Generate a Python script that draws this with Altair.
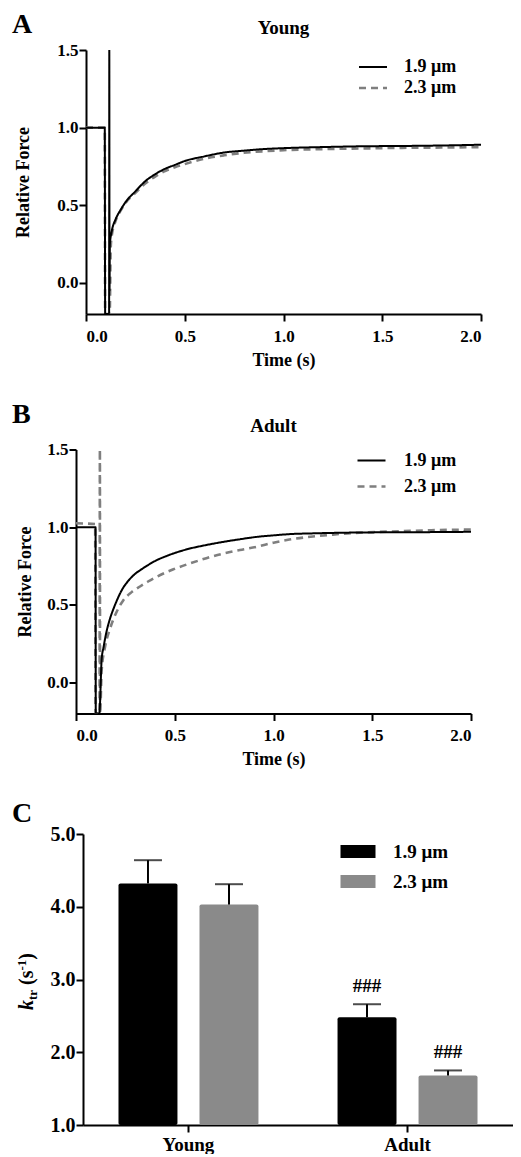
import altair as alt
import pandas as pd

FONT = "Liberation Serif"
SERIES = ["1.9 μm", "2.3 μm"]
LINE_COLORS = ["#000000", "#7f7f7f"]
BAR_COLORS = ["#000000", "#8a8a8a"]

# ---------------- Panel A : Young ----------------
young_19_t = [0.0, 0.095, 0.097, 0.117, 0.118, 0.119, 0.121, 0.13, 0.15, 0.175, 0.2, 0.25, 0.3,
              0.35, 0.4, 0.45, 0.5, 0.6, 0.7, 0.8, 0.9, 1.0, 1.2, 1.4, 1.6, 1.8, 2.0]
young_19_f = [1.0, 1.0, -0.2, -0.2, 1.5, -0.05, 0.25, 0.33, 0.41, 0.47, 0.52, 0.59, 0.655,
              0.70, 0.735, 0.76, 0.785, 0.815, 0.84, 0.852, 0.862, 0.868, 0.875, 0.88, 0.882, 0.885, 0.89]
young_23_t = [0.0, 0.095, 0.097, 0.12, 0.125, 0.13, 0.15, 0.175, 0.2, 0.25, 0.3, 0.35, 0.4,
              0.45, 0.5, 0.6, 0.7, 0.8, 0.9, 1.0, 1.2, 1.4, 1.6, 1.8, 2.0]
young_23_f = [1.0, 1.0, -0.2, -0.2, 0.22, 0.30, 0.40, 0.465, 0.515, 0.58, 0.64, 0.685, 0.72,
              0.745, 0.765, 0.80, 0.822, 0.838, 0.848, 0.855, 0.862, 0.866, 0.87, 0.872, 0.875]

# ---------------- Panel B : Adult ----------------
adult_19_t = [0.0, 0.099, 0.1, 0.118, 0.13, 0.14, 0.155, 0.172, 0.19, 0.206, 0.22, 0.239, 0.27,
              0.3, 0.324, 0.36, 0.408, 0.45, 0.492, 0.576, 0.66, 0.745, 0.83, 0.913, 1.0, 1.08,
              1.2, 1.4, 1.6, 1.8, 2.0]
adult_19_f = [1.0, 1.0, -0.2, -0.2, 0.15, 0.23, 0.33, 0.41, 0.475, 0.525, 0.565, 0.61, 0.662,
              0.70, 0.722, 0.752, 0.787, 0.81, 0.83, 0.862, 0.885, 0.905, 0.922, 0.937, 0.947, 0.955,
              0.96, 0.965, 0.967, 0.968, 0.97]
adult_23_t = [0.0, 0.097, 0.099, 0.119, 0.121, 0.122, 0.13, 0.147, 0.172, 0.206,
              0.239, 0.28, 0.324, 0.365, 0.408, 0.49, 0.576, 0.66, 0.745, 0.83, 0.913, 1.0,
              1.08, 1.2, 1.3, 1.4, 1.6, 1.8, 2.0]
adult_23_f = [1.025, 1.02, -0.2, -0.2, 1.5, -0.2, 0.08, 0.228, 0.345, 0.455,
              0.528, 0.58, 0.618, 0.65, 0.68, 0.727, 0.766, 0.80, 0.83, 0.853, 0.873, 0.90,
              0.92, 0.94, 0.952, 0.962, 0.972, 0.98, 0.985]

# ---------------- Panel C : k_tr ----------------
groups = ["Young", "Young", "Adult", "Adult"]
lengths = ["1.9 μm", "2.3 μm", "1.9 μm", "2.3 μm"]
ktr_mean = [4.32, 4.03, 2.48, 1.68]
ktr_sem = [0.32, 0.28, 0.18, 0.07]
sig_marks = ["", "", "###", "###"]
GROUP_ORDER = ["Young", "Adult"]


def trace_df(parts):
    rows = []
    k = 0
    for name, ts, fs in parts:
        for t, f in zip(ts, fs):
            rows.append({"series": name, "t": t, "f": f, "order": k})
            k += 1
    return pd.DataFrame(rows)


def text_layer(txt, size, dx, dy, align="left"):
    return alt.Chart(pd.DataFrame({"s": [txt]})).mark_text(
        font=FONT, fontSize=size, fontWeight="bold", align=align, baseline="alphabetic",
        color="black").encode(text="s:N", x=alt.value(dx), y=alt.value(dy))


def trace_legend(leg_x, leg_y, row_pad, off):
    return alt.Legend(title=None, orient="none", legendX=leg_x, legendY=leg_y,
                      symbolType="M-2,0L2,0", symbolSize=196, symbolStrokeWidth=2.5,
                      labelFont=FONT, labelFontSize=18, labelFontWeight="bold",
                      labelColor="black", labelOffset=off, rowPadding=row_pad)


def trace_panel(df, title, title_x, title_dy, letter, ldy, leg_x, leg_y, row_pad, off,
                title_pad, width, x0):
    lines = alt.Chart(df).mark_line(clip=True, interpolate="monotone").encode(
        x=alt.X("t:Q", scale=alt.Scale(domain=[0, 2], nice=False, range=[x0, width]),
                axis=alt.Axis(values=[0, 0.5, 1, 1.5, 2], format=".1f", title="Time (s)",
                              labelPadding=7, titlePadding=7)),
        y=alt.Y("f:Q", scale=alt.Scale(domain=[-0.2, 1.5], nice=False),
                axis=alt.Axis(values=[0, 0.5, 1, 1.5], format=".1f", title="Relative Force",
                              labelPadding=1, titlePadding=title_pad, offset=-x0)),
        color=alt.Color("series:N", scale=alt.Scale(domain=SERIES, range=LINE_COLORS),
                        legend=trace_legend(leg_x, leg_y, row_pad, off)),
        strokeDash=alt.StrokeDash("series:N", scale=alt.Scale(domain=SERIES, range=[[1, 0], [7, 5]]),
                                  legend=trace_legend(leg_x, leg_y, row_pad, off)),
        strokeWidth=alt.StrokeWidth("series:N", scale=alt.Scale(domain=SERIES, range=[2, 2.6]),
                                    legend=None),
        order="order:Q",
    )
    return alt.layer(lines, text_layer(letter, 28, -64, ldy),
                     text_layer(title, 19, title_x, title_dy, align="center")).properties(
        width=width, height=264)


dfA = trace_df([(SERIES[1], young_23_t, young_23_f), (SERIES[0], young_19_t, young_19_f)])
dfB = trace_df([(SERIES[1], adult_23_t, adult_23_f), (SERIES[0], adult_19_t, adult_19_f)])

panelA = trace_panel(dfA, "Young", 207.5, -16, "A", -17, 288, 8, 3, 22, 24, 405, 10)
panelB = trace_panel(dfB, "Adult", 197.5, -18, "B", -27, 286.5, 2, 8, 23.5, 12, 395, 0)

dfC = pd.DataFrame({"group": groups, "length": lengths, "mean": ktr_mean, "sem": ktr_sem,
                    "sig": sig_marks})

xC = alt.X("group:N", sort=GROUP_ORDER,
           scale=alt.Scale(paddingInner=0.361, paddingOuter=0.162, range=[7, 437]),
           axis=alt.Axis(title=None, labelAngle=0, labelFontSize=19, labelPadding=3))
xoC = alt.XOffset("length:N", sort=SERIES, scale=alt.Scale(paddingInner=0.272, paddingOuter=0))
yC = alt.Y("mean:Q", scale=alt.Scale(domain=[1, 5], nice=False),
           axis=alt.Axis(values=[1, 2, 3, 4, 5], format=".1f", title=None, labelFontSize=20,
                         labelPadding=1, offset=-7))

baseC = alt.Chart(dfC).transform_calculate(upper="datum.mean + datum.sem")

bars = baseC.mark_bar(cornerRadius=2).encode(
    x=xC, xOffset=xoC, y=yC, y2=alt.datum(1),
    color=alt.Color("length:N", scale=alt.Scale(domain=SERIES, range=BAR_COLORS),
                    legend=alt.Legend(title=None, orient="none", legendX=272.5, legendY=8,
                                      symbolType="M-2.5,-0.93L2.5,-0.93L2.5,0.93L-2.5,0.93Z",
                                      symbolSize=196, symbolStrokeWidth=0, labelFont=FONT,
                                      labelFontSize=19, labelFontWeight="bold",
                                      labelColor="black", labelOffset=25.5, rowPadding=10)),
)
err_rule = baseC.mark_rule(color="black", strokeWidth=2).encode(
    x=xC, xOffset=xoC, y=alt.Y("mean:Q"), y2="upper:Q")
err_cap = baseC.mark_tick(color="black", thickness=2, size=28).encode(
    x=xC, xOffset=xoC, y=alt.Y("upper:Q"))
sig = baseC.mark_text(font=FONT, fontSize=19, fontWeight="bold", baseline="bottom", dy=-8,
                      color="black").encode(x=xC, xOffset=xoC, y=alt.Y("upper:Q"), text="sig:N")


def ypart(txt, size, dx, dy, italic=False):
    kw = dict(font=FONT, fontSize=size, fontWeight="bold", angle=270, align="left",
              baseline="alphabetic", color="black")
    if italic:
        kw["fontStyle"] = "italic"
    return alt.Chart(pd.DataFrame({"s": [txt]})).mark_text(**kw).encode(
        text="s:N", x=alt.value(dx), y=alt.value(dy))


ytitle = [ypart("k", 20, -43, 176, italic=True), ypart("tr", 13, -39, 166),
          ypart("(s", 20, -43, 151), ypart("-1", 13, -50, 136.6), ypart(")", 20, -43, 125.8)]

panelC = alt.layer(bars, err_rule, err_cap, sig, text_layer("C", 28, -64, -12), *ytitle).properties(
    width=437, height=291)

chart = alt.concat(panelA, panelB, panelC, columns=1, spacing=31.5).resolve_scale(
    x="independent", y="independent", color="independent", strokeDash="independent",
    strokeWidth="independent").resolve_legend(color="independent", strokeDash="independent"
).properties(padding={"left": 4, "top": 3, "right": 0, "bottom": 0}).configure_view(
    stroke=None).configure_axis(
    domainColor="black", domainWidth=2, tickColor="black", tickWidth=2, tickSize=7, grid=False,
    labelFont=FONT, labelFontSize=17, labelFontWeight="bold", labelColor="black",
    titleFont=FONT, titleFontSize=18, titleFontWeight="bold", titleColor="black")

chart.save("out.html", embed_options={"renderer": "svg", "actions": False})
